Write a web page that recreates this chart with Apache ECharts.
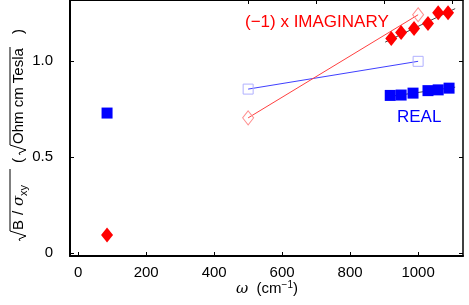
<!DOCTYPE html>
<html><head><meta charset="utf-8">
<script src="https://cdn.jsdelivr.net/npm/echarts@6/dist/echarts.min.js"></script>
<style>html,body{margin:0;padding:0;background:#fff}#c{width:469px;height:305px}</style>
</head><body><div id="c"></div>
<script>
// ---- data ----
const xTicks = [0, 200, 400, 600, 800, 1000];
const xTopTicks = [500, 700, 900, 1100];
const yTicks = [0, 0.5, 1.0];
const yTickLabels = ['0', '0.5', '1.0'];

const realLowX = [85];
const realLowY = [0.73];
const imagLowX = [85];
const imagLowY = [0.093];

const realHighX = [918, 950, 985, 1029, 1059, 1091];
const realHighY = [0.822, 0.824, 0.834, 0.847, 0.851, 0.860];
const imagHighX = [921, 950, 988, 1029, 1059, 1088];
const imagHighY = [1.119, 1.150, 1.171, 1.197, 1.254, 1.254];

const realModelX = [500, 1000];
const realModelY = [0.855, 1.0];
const imagModelX = [500, 1000];
const imagModelY = [0.705, 1.243];

const realFitX = [903, 1109];
const realFitY = [0.813, 0.865];
const imagFitX = [903, 1109];
const imagFitY = [1.10, 1.275];

const zip = (xs, ys) => xs.map((x, i) => [x, ys[i]]);
const FONT = '"Liberation Sans", Arial, Helvetica, sans-serif';

const chart = echarts.init(document.getElementById('c'), null, {renderer: 'canvas'});

// y-axis title pieces (local coordinates along reading direction)
const yTitle = {
  type: 'group', x: 19, y: 241, rotation: Math.PI / 2, silent: true,
  children: [
    {type: 'polyline', shape: {points: [[0, 1], [2, 0], [5, 7], [10, -9], [72, -9]]}, style: {stroke: '#000', lineWidth: 1, fill: null}},
    {type: 'text', x: 11, y: 0, style: {text: 'B', font: '15px ' + FONT, fill: '#000', verticalAlign: 'middle'}},
    {type: 'text', x: 26, y: 0, style: {text: '/', font: '15px ' + FONT, fill: '#000', verticalAlign: 'middle'}},
    {type: 'text', x: 35, y: 0, style: {text: 'σ', font: 'italic 15px "DejaVu Serif", serif', fill: '#000', verticalAlign: 'middle'}},
    {type: 'text', x: 45, y: 5, style: {text: 'xy', font: '11px ' + FONT, fill: '#000', verticalAlign: 'middle'}},
    {type: 'text', x: 78, y: 0, style: {text: '(', font: '15px ' + FONT, fill: '#000', verticalAlign: 'middle'}},
    {type: 'polyline', shape: {points: [[86, 1], [88, 0], [91, 7], [96, -9], [194, -9]]}, style: {stroke: '#000', lineWidth: 1, fill: null}},
    {type: 'text', x: 97, y: 0, style: {text: 'Ohm cm Tesla', font: '15px ' + FONT, fill: '#000', verticalAlign: 'middle'}},
    {type: 'text', x: 207, y: 0, style: {text: ')', font: '15px ' + FONT, fill: '#000', verticalAlign: 'middle'}}
  ]
};

const option = {
  animation: false,
  backgroundColor: '#fff',
  grid: {left: 70, right: 6, top: -2, bottom: 49, containLabel: false},
  xAxis: [{
    type: 'value', min: -24, max: 1132, position: 'bottom',
    axisLine: {show: true, onZero: false, lineStyle: {color: '#000', width: 2}},
    axisTick: {show: true, inside: true, length: 4, customValues: xTicks, lineStyle: {color: '#000'}},
    axisLabel: {customValues: xTicks, fontSize: 15, color: '#000', margin: 9, fontFamily: FONT,
      formatter: v => String(Math.round(v))},
    splitLine: {show: false}
  }, {
    type: 'value', min: -24, max: 1132, position: 'top',
    axisLine: {show: true, onZero: false, lineStyle: {color: '#000', width: 1}},
    axisTick: {show: true, inside: true, length: 4, customValues: xTopTicks, lineStyle: {color: '#000'}},
    axisLabel: {show: false},
    splitLine: {show: false}
  }],
  yAxis: [{
    type: 'value', min: -0.016, max: 1.32, position: 'left',
    axisLine: {show: true, onZero: false, lineStyle: {color: '#000', width: 2}},
    axisTick: {show: true, inside: true, length: 4, customValues: yTicks, lineStyle: {color: '#000'}},
    axisLabel: {customValues: yTicks, fontSize: 15, color: '#000', margin: 17, fontFamily: FONT,
      formatter: v => yTickLabels[yTicks.findIndex(t => Math.abs(t - v) < 1e-9)] ?? ''},
    splitLine: {show: false}
  }, {
    type: 'value', min: -0.016, max: 1.32, position: 'right',
    axisLine: {show: true, onZero: false, lineStyle: {color: '#000', width: 1.5}},
    axisTick: {show: true, inside: true, length: 4, customValues: yTicks, lineStyle: {color: '#000'}},
    axisLabel: {show: false},
    splitLine: {show: false}
  }],
  series: [
    {type: 'line', data: zip(realFitX, realFitY), symbol: 'none', lineStyle: {color: '#444', width: 1}, z: 1},
    {type: 'line', data: zip(imagFitX, imagFitY), symbol: 'none', lineStyle: {color: '#444', width: 1}, z: 1},
    {type: 'line', data: zip(realModelX, realModelY), symbol: 'rect', symbolSize: 10, showSymbol: true,
      itemStyle: {color: 'rgba(255,255,255,0)', borderColor: '#b0b0ff', borderWidth: 1},
      lineStyle: {color: '#4040ff', width: 1}, z: 2},
    {type: 'line', data: zip(imagModelX, imagModelY), symbol: 'diamond', symbolSize: [11, 14], showSymbol: true,
      itemStyle: {color: 'rgba(255,255,255,0)', borderColor: '#ff9090', borderWidth: 1},
      lineStyle: {color: '#ff4040', width: 1}, z: 2},
    {type: 'scatter', data: zip(realLowX, realLowY).concat(zip(realHighX, realHighY)), symbol: 'rect', symbolSize: 11,
      itemStyle: {color: '#0000ff', opacity: 1}, z: 3},
    {type: 'scatter', data: zip(imagLowX, imagLowY).concat(zip(imagHighX, imagHighY)), symbol: 'diamond', symbolSize: [12, 15],
      itemStyle: {color: '#ff0000', opacity: 1}, z: 3}
  ],
  graphic: [
    yTitle,
    {type: 'text', x: 245, y: 22, silent: true,
      style: {text: '(−1) x IMAGINARY', font: '17px ' + FONT, fill: '#ff0000', verticalAlign: 'middle'}},
    {type: 'text', x: 397, y: 117, silent: true,
      style: {text: 'REAL', font: '17px ' + FONT, fill: '#0000ff', verticalAlign: 'middle'}},
    {type: 'text', x: 267, y: 289, silent: true,
      style: {text: '{w|ω}  (cm{s|−1})', font: '15px ' + FONT, fill: '#000', align: 'center', verticalAlign: 'middle',
        rich: {w: {font: 'italic 15px "DejaVu Serif", serif', fill: '#000'}, s: {fontSize: 10, fontFamily: FONT, verticalAlign: 'top', padding: [0, 0, 8, 0]}}}}
  ]
};
chart.setOption(option);
</script>
</body></html>
